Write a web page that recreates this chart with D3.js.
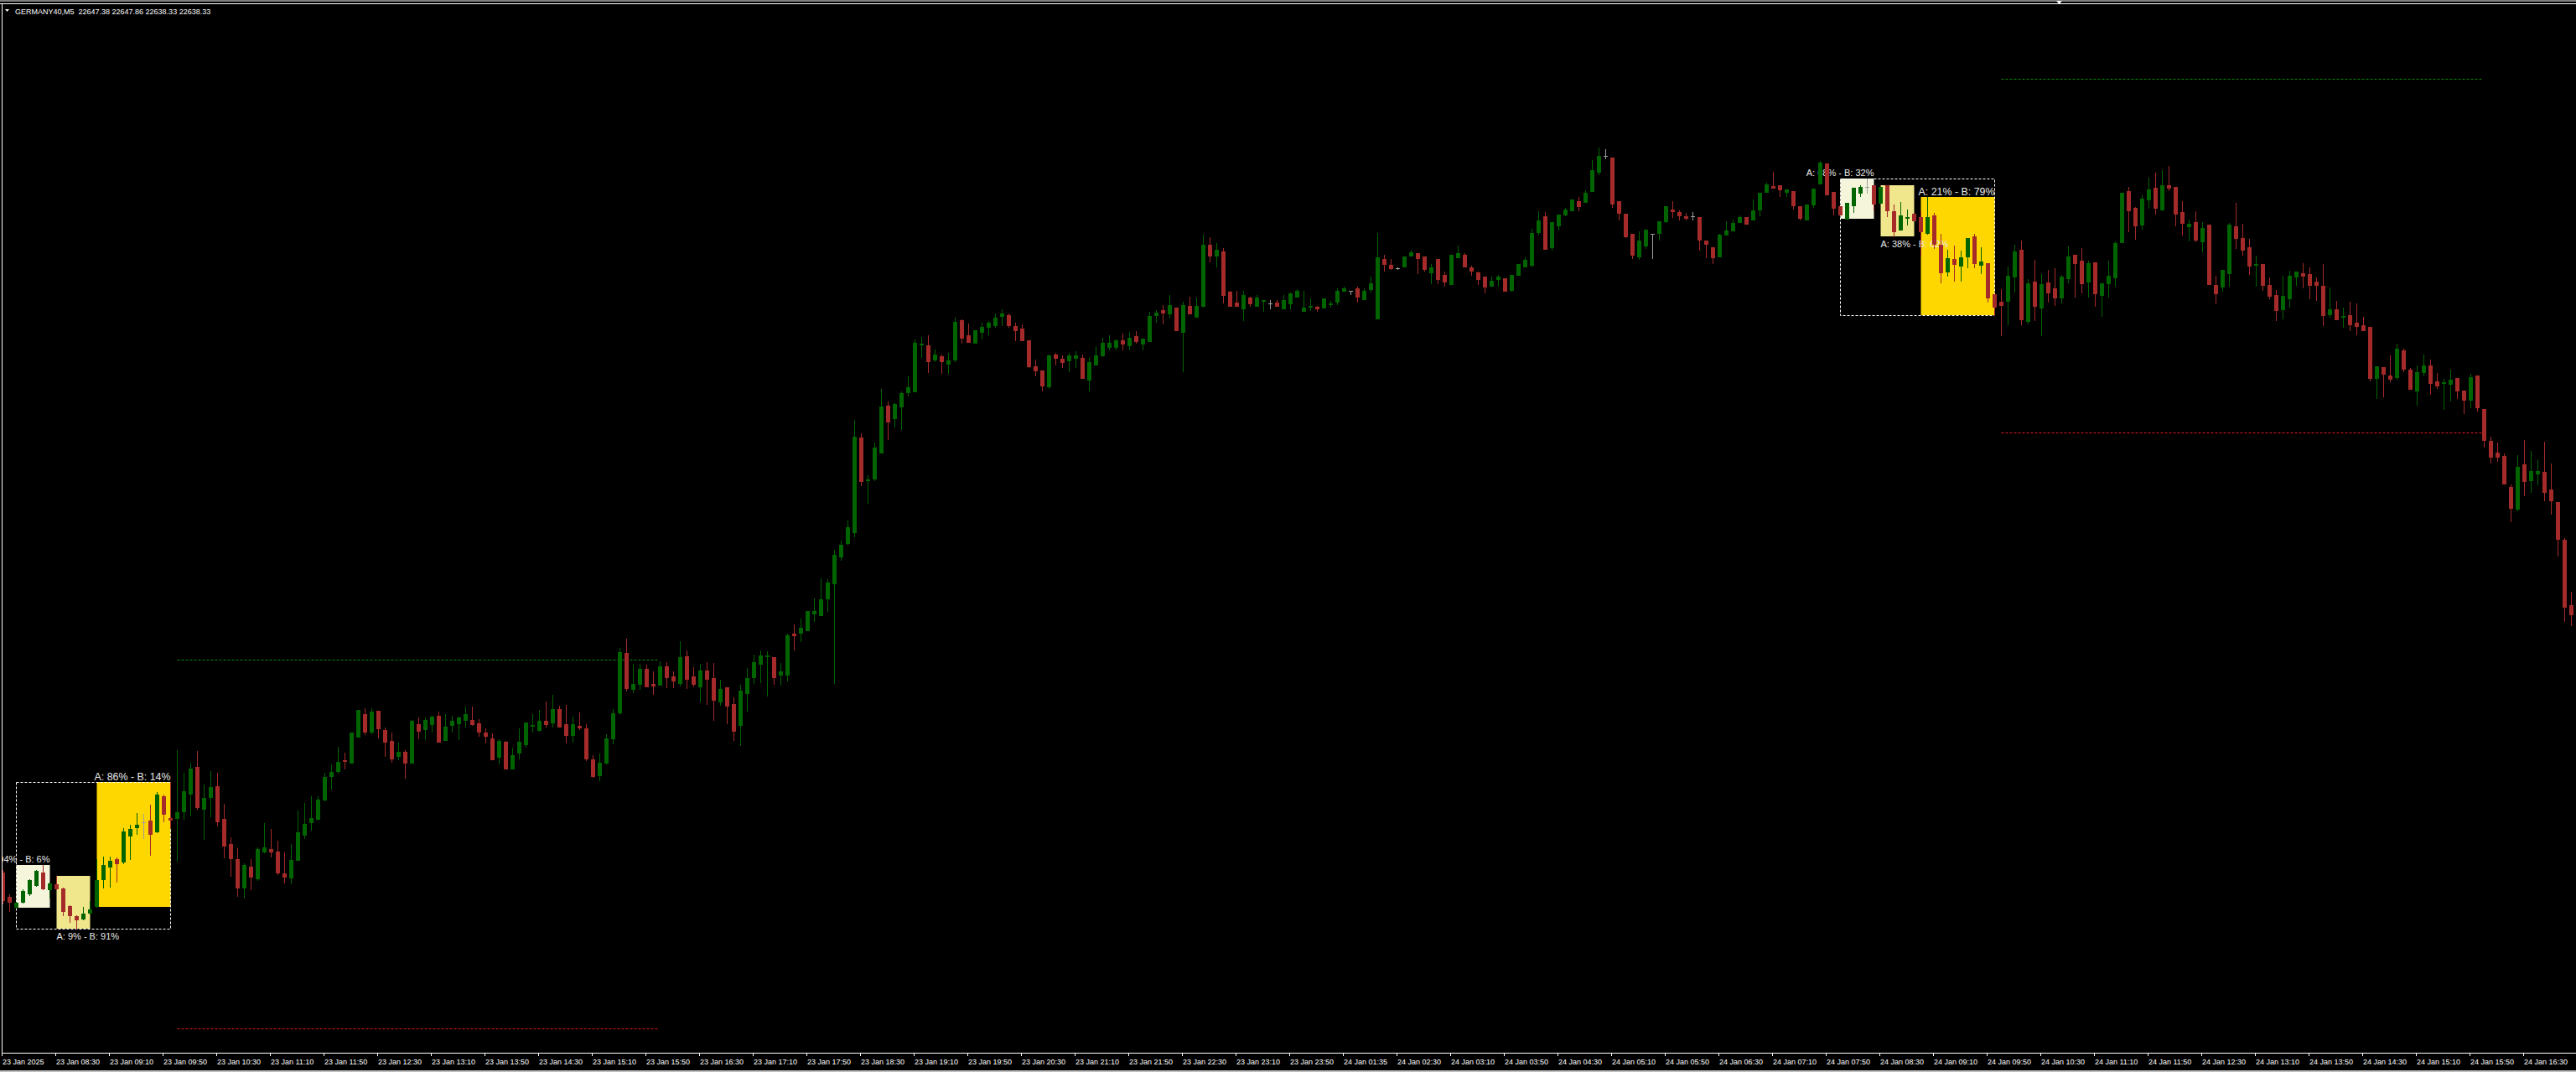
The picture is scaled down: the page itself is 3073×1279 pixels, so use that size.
<!DOCTYPE html>
<html>
<head>
<meta charset="utf-8">
<script src="https://cdn.jsdelivr.net/npm/d3@7"></script>
<style>
body { margin: 0; background: #000; overflow: hidden; }
svg { display: block; }
</style>
</head>
<body>
<div id="chart"></div>
<script>
// M5 bars, 23 Jan 07:50 -> 24 Jan 16:45
var symbolName = "GERMANY40,M5";
var lastQuote = ["22647.38", "22647.86", "22638.33", "22638.33"];

var opens = [
22484.5,22470,22464,22467,22472,22477,22484.5,22474.5,22477.5,22475,
22464.5,22458.5,22457,22460.5,22464.5,22480.5,22488,22492.5,22491,22506.5,
22511.5,22514.5,22515.5,22509,22530,22517,22517,22521,22531.5,22547.5,
22522.5,22529.5,22536,22516.5,22501.5,22492.5,22475.5,22488,22481,22497,
22498.5,22497,22484,22481.5,22492,22507,22514.5,22516.5,22528,22542,
22545,22551.5,22550,22565.5,22579,22568.5,22581,22569.5,22563,22554,
22556.5,22550,22573,22570,22573,22578,22563.5,22572.5,22573.5,22575.5,
22575.5,22573.5,22568,22564.5,22553.5,22562.5,22546.5,22556,22561,22572,
22569.5,22575,22574,22582,22573,22566.5,22572,22570.5,22552,22542.5,
22550,22564.5,22580,22615.5,22594,22597,22606,22597,22596.5,22607.5,
22601.5,22597.5,22613.5,22601.5,22595.5,22605,22600.5,22586.5,22595,22585,
22572.5,22591.5,22601,22609,22613.5,22613,22602.5,22602.5,22627,22627.5,
22629,22639,22638,22648,22657,22673,22681,22687.5,22744,22718.5,
22719.5,22735,22763,22755.5,22762.5,22771,22771.5,22799.5,22799,22790.5,
22792.5,22788,22790.5,22814,22805,22800.5,22807,22810,22811,22816.5,
22817,22810.5,22809,22802,22786.5,22784,22774.5,22793.5,22791,22790,
22791.5,22791.5,22778.5,22787.5,22793,22798,22798,22802,22799,22804.5,
22800,22801.5,22817,22820,22818,22821.5,22807,22822.5,22816,22822.5,
22859,22852.5,22855,22831,22824.5,22821,22827.5,22822.5,22825.5,22824,
22824.5,22821,22824,22828,22819.5,22822,22822,22821.5,22823.5,22825,
22831.5,22831.5,22833,22826.5,22832.5,22815,22850.5,22847,22845,22846,
22852.5,22854,22852,22842.5,22850.5,22841,22835.5,22851.5,22853,22845.5,
22842.5,22840,22834.5,22838.5,22839,22832,22841,22846,22847,22866.5,
22876,22857.5,22870.5,22877,22879.5,22885,22884.5,22891,22902.5,22912,
22911,22885,22877.5,22865.5,22852,22858.5,22865.5,22866,22873,22880,
22878.5,22876,22876,22875.5,22861.5,22857.5,22852,22865,22867.5,22872.5,
22875.5,22874,22880,22890.5,22894,22894.5,22890.5,22891,22882,22874,
22883,22895.5,22907.5,22890.5,22882,22874.5,22882.5,22890,22893.5,22894.5,
22884,22894.5,22879,22868,22875,22877.5,22875.5,22866,22876.5,22859,
22843,22850.5,22846.5,22852,22864,22847,22848,22829.5,22825,22825.5,
22840,22856,22813.5,22837,22821.5,22836.5,22833,22827.5,22839,22853,
22849.5,22837,22848.5,22829,22836,22839.5,22860.5,22891,22881,22871,
22886,22893,22880,22894.5,22893.5,22878.5,22870,22872.5,22861,22871,
22835,22834,22842,22870,22863,22857.5,22847,22847.5,22835,22829,
22820.5,22827,22840,22842,22841.5,22837,22834.5,22817.5,22820.5,22816,
22817,22812.5,22811,22810,22779.5,22786,22781,22780,22796,22784.5,
22772,22783,22787,22777.5,22776.5,22776,22779.5,22772,22766.5,22781,
22761,22742,22735,22733,22714.5,22701.5,22728,22718.5,22722.5,22723.5,
22713,22705.5,22683,22644
];

var highs = [
22486,22471.5,22467,22474.5,22480.5,22486,22489,22479,22482.5,22475.5,
22465,22459,22464,22467.5,22492.5,22494,22494,22493.5,22511,22513,
22520,22519.5,22525,22532.5,22531,22538.5,22557.5,22544,22550,22557,
22537,22545,22544,22525.5,22505.5,22499,22490,22492.5,22499.5,22514,
22510.5,22503.5,22496.5,22501.5,22521.5,22526,22530,22530,22544,22549,
22559.5,22556,22568,22581.5,22582.5,22582.5,22581,22571,22568,22562,
22557.5,22575.5,22577,22577,22578,22580.5,22579,22578,22577.5,22583.5,
22583.5,22576,22570.5,22567.5,22564,22563,22559,22570.5,22574,22579,
22581.5,22586.5,22590.5,22584,22584.5,22577.5,22580,22573,22554.5,22555.5,
22567,22582,22618.5,22624,22609,22609,22608.5,22604.5,22610.5,22610,
22604.5,22622.5,22617,22607,22609,22610,22609.5,22599.5,22595,22589,
22596.5,22606.5,22614.5,22617,22616.5,22613,22609.5,22627,22632.5,22636,
22640.5,22648,22660,22659.5,22677,22682.5,22694.5,22754.5,22746.5,22721.5,
22741,22773,22765.5,22764.5,22771.5,22780.5,22802.5,22804,22805,22796.5,
22793.5,22794.5,22815.5,22814.5,22812,22808,22812.5,22813.5,22818,22820.5,
22818,22812.5,22811.5,22802,22790.5,22784,22793.5,22794.5,22793,22794.5,
22795.5,22793.5,22791.5,22798.5,22803.5,22805,22802.5,22806,22807,22807.5,
22803,22819,22820,22823,22829,22821.5,22825,22828,22827.5,22865,
22863.5,22860,22857,22831.5,22831.5,22831.5,22828,22829,22826,22826,
22826,22829,22830.5,22832.5,22831.5,22827,22822.5,22827,22825.5,22833,
22834,22831.5,22834,22833,22840,22866,22853,22850.5,22845.5,22852,
22856,22854,22852,22847.5,22850.5,22843,22853,22858.5,22854,22846.5,
22843,22840,22840,22841,22839,22841,22847.5,22851.5,22868.5,22879,
22878.5,22872.5,22877,22881,22886,22887.5,22891.5,22909.5,22917,22916,
22911,22885,22877.5,22865.5,22867,22868,22865.5,22873,22882,22885,
22879.5,22878,22878.5,22875.5,22861.5,22857.5,22865.5,22873,22874,22876.5,
22875.5,22886,22890,22896,22902.5,22894.5,22892,22891,22882,22883,
22892.5,22909,22907.5,22890.5,22882,22884,22893,22894.5,22898.5,22894.5,
22893.5,22894.5,22883,22884.5,22880,22877.5,22879,22887.5,22878,22865.5,
22856,22858.5,22855.5,22863,22865.5,22857.5,22848,22829.5,22832.5,22846,
22859,22861.5,22838.5,22850,22841.5,22844,22845,22841,22858,22853,
22857,22849.5,22848.5,22836,22849.5,22861,22890,22893.5,22881.5,22888.5,
22899,22902,22903.5,22906,22893.5,22885,22874,22879,22872.5,22871,
22840.5,22844,22872,22884,22871.5,22862.5,22852.5,22847.5,22839.5,22832,
22840.5,22843.5,22843,22848,22845.5,22839.5,22847.5,22833.5,22825.5,22821.5,
22825,22824,22816,22810,22786.5,22786,22793,22800,22797,22785.5,
22787,22793.5,22790.5,22782.5,22779,22784.5,22779.5,22772,22782,22781,
22761,22744.5,22741,22734.5,22716,22733.5,22742.5,22736,22731,22741.5,
22728.5,22705.5,22684,22652
];

var lows = [
22466,22461.5,22463.5,22466.5,22471,22476.5,22474.5,22469.5,22474.5,22459,
22455,22451,22456.5,22460,22464,22475.5,22476,22479,22490,22492.5,
22507.5,22505,22495,22508.5,22515,22511.5,22491.5,22516.5,22518.5,22522.5,
22504.5,22518,22512.5,22493.5,22482.5,22470.5,22469.5,22474.5,22480,22496.5,
22494,22483.5,22478.5,22478,22492,22505,22510,22516,22527.5,22534.5,
22544,22546.5,22550,22565.5,22567,22567.5,22565,22554,22550.5,22552,
22541,22550,22564.5,22564,22568.5,22562.5,22563.5,22568.5,22564,22571.5,
22572.5,22566,22562,22552,22549.5,22546.5,22546.5,22552.5,22559.5,22568.5,
22569,22571.5,22571.5,22571.5,22562,22562.5,22570,22551.5,22541.5,22539.5,
22549.5,22561.5,22579,22593,22592,22594,22595.5,22591,22596.5,22595,
22595,22596,22594.5,22595.5,22586.5,22585,22575.5,22584.5,22573.5,22563.5,
22560.5,22581,22597.5,22598,22590,22597,22596.5,22599,22617.5,22622.5,
22629,22634.5,22638,22640.5,22597.5,22671,22680,22685,22715.5,22705,
22718.5,22735,22743,22750.5,22749,22769,22771.5,22792,22783,22789.5,
22782.5,22782.5,22789.5,22800.5,22801,22800.5,22803,22805.5,22810,22811,
22810,22802,22802,22786,22781,22772,22773.5,22787.5,22786,22783.5,
22786,22779.5,22772,22787.5,22792.5,22796.5,22796.5,22796.5,22796.5,22800.5,
22796.5,22801.5,22813,22812,22815.5,22808,22783.5,22818,22816,22822,
22849,22846,22824.5,22822.5,22822.5,22814,22822.5,22822.5,22819.5,22821,
22822.5,22821,22821,22828,22819.5,22820,22819.5,22821.5,22822,22823.5,
22831.5,22829.5,22825,22826.5,22831,22815,22843.5,22844.5,22844.5,22846,
22852.5,22842,22843.5,22836,22836,22834.5,22835.5,22851.5,22846,22841,
22835.5,22830.5,22834.5,22834.5,22831.5,22831.5,22841,22846,22846,22865,
22856.5,22856,22868,22876.5,22879.5,22879.5,22884.5,22891,22901,22910.5,
22881.5,22874,22863.5,22851,22850.5,22857,22851,22862,22872.5,22875.5,
22874,22874,22874,22856,22851.5,22848,22852,22865,22867.5,22872.5,
22871.5,22874,22876.5,22890.5,22893,22888,22888,22880.5,22874,22874,
22881.5,22895.5,22889,22877,22877,22874.5,22878.5,22888,22890,22879.5,
22884,22876,22864,22868,22871,22873.5,22852.5,22865.5,22857,22836.5,
22840.5,22837.5,22837.5,22845.5,22845.5,22842,22825,22817,22805,22811.5,
22831,22811.5,22812,22814,22805,22825,22823,22824.5,22836.5,22828,
22830.5,22828,22822.5,22816.5,22828,22834.5,22860.5,22867,22862.5,22868.5,
22881,22877.5,22880,22891.5,22870.5,22865,22861.5,22861,22855,22835.5,
22824,22831.5,22834.5,22857,22853,22841.5,22834.5,22832,22827,22814,
22815,22822,22835,22833.5,22827,22826,22811,22816,22814.5,22810,
22808,22805.5,22808,22778,22767.5,22768.5,22777.5,22779,22783.5,22773,
22763.5,22781,22770,22773.5,22761,22766,22767.5,22758.5,22762,22760,
22738.5,22729,22730,22716.5,22694,22700.5,22709.5,22711.5,22716,22706.5,
22698.5,22673.5,22634.5,22632
];

var closes = [
22468,22467,22466.5,22473.5,22480,22485.5,22475,22478,22475,22461.5,
22459,22456.5,22460,22462.5,22480,22489,22491.5,22490,22509,22510.5,
22513,22514.5,22507.5,22531,22519.5,22516,22520.5,22533,22546.5,22523.5,
22529,22535.5,22515,22500.5,22493,22475.5,22489,22482,22498.5,22499.5,
22497,22484.5,22482,22492,22508.5,22513.5,22517,22528,22541.5,22544.5,
22550.5,22551,22568,22581.5,22568.5,22580.5,22570.5,22562.5,22552.5,22556.5,
22550,22575,22569,22575.5,22577.5,22562.5,22571.5,22575,22577,22579,
22573,22568.5,22566,22552,22563,22546.5,22554.5,22562.5,22574,22572.5,
22575,22573,22582,22571.5,22566.5,22573,22571,22552.5,22542,22550,
22564.5,22579.5,22616,22594.5,22597,22606,22595.5,22596,22607.5,22601,
22599,22613,22600,22597,22605,22600,22587.5,22594,22584,22569,
22593,22600.5,22610,22614,22614,22601,22604.5,22626,22626,22630.5,
22640.5,22640.5,22647.5,22657.5,22674,22680,22690.5,22744.5,22718,22719,
22738,22762.5,22753.5,22764,22770.5,22774,22800.5,22800,22789.5,22793.5,
22789.5,22790,22813,22803.5,22801,22808,22810,22812.5,22815.5,22818,
22811,22808,22802,22786.5,22784,22775,22793,22791.5,22789,22793,
22793,22779.5,22789,22793,22800.5,22800.5,22802,22800,22803.5,22801.5,
22803,22816.5,22818.5,22818.5,22823,22808,22823,22818,22822.5,22859,
22852.5,22856,22829,22822.5,22822.5,22829,22824,22827.5,22826,22824,
22822.5,22826,22830,22831.5,22821.5,22822.5,22821,22827,22824,22831.5,
22833,22831.5,22828,22831.5,22836,22851.5,22847.5,22845,22845,22852,
22854.5,22851,22844.5,22845.5,22838.5,22837,22853,22854,22846,22843.5,
22838.5,22834,22837.5,22840,22831.5,22841,22847.5,22850,22866,22873.5,
22856.5,22872.5,22877,22880,22886,22882,22890,22903.5,22912,22912,
22883.5,22878,22864,22853,22861.5,22868,22865.5,22873,22882,22879,
22876.5,22875,22876,22862,22859.5,22851.5,22865,22867.5,22872,22875.5,
22871.5,22879.5,22890,22895,22893,22892,22892,22882.5,22875,22883,
22892.5,22908,22889,22881,22877,22884,22893,22893.5,22893.5,22883.5,
22893.5,22879.5,22867,22876.5,22875.5,22873.5,22867,22875.5,22859.5,22842.5,
22851,22847.5,22851.5,22863,22848,22849,22827.5,22822,22823,22840.5,
22855,22814.5,22836,22822.5,22835.5,22830.5,22827.5,22840,22852,22848,
22836,22848,22830,22836,22840.5,22860,22890,22879.5,22870.5,22886.5,
22892,22881,22894.5,22893,22877.5,22872,22871.5,22862,22869,22835.5,
22830,22844,22871,22863,22856,22846.5,22847.5,22835,22828.5,22820,
22828.5,22840.5,22843,22840.5,22835,22835,22817,22820.5,22814.5,22816.5,
22811.5,22810.5,22808,22779.5,22786.5,22782,22779,22797,22785,22773,
22783,22787,22776.5,22775,22777,22778.5,22772,22766.5,22780,22762,
22742.5,22732.5,22732.5,22716.5,22702,22726.5,22718,22724,22724,22711.5,
22706.5,22683.5,22643,22638.5
];

var timeLabels = ["23 Jan 2025","23 Jan 08:30","23 Jan 09:10","23 Jan 09:50","23 Jan 10:30","23 Jan 11:10",
"23 Jan 11:50","23 Jan 12:30","23 Jan 13:10","23 Jan 13:50","23 Jan 14:30","23 Jan 15:10","23 Jan 15:50",
"23 Jan 16:30","23 Jan 17:10","23 Jan 17:50","23 Jan 18:30","23 Jan 19:10","23 Jan 19:50","23 Jan 20:30",
"23 Jan 21:10","23 Jan 21:50","23 Jan 22:30","23 Jan 23:10","23 Jan 23:50","24 Jan 01:35","24 Jan 02:30",
"24 Jan 03:10","24 Jan 03:50","24 Jan 04:30","24 Jan 05:10","24 Jan 05:50","24 Jan 06:30","24 Jan 07:10",
"24 Jan 07:50","24 Jan 08:30","24 Jan 09:10","24 Jan 09:50","24 Jan 10:30","24 Jan 11:10","24 Jan 11:50",
"24 Jan 12:30","24 Jan 13:10","24 Jan 13:50","24 Jan 14:30","24 Jan 15:10","24 Jan 15:50","24 Jan 16:30"];

// A/B zones: first and last bar of each range, and its label
var zoneStart = [2, 8, 14, 274, 280, 286];
var zoneEnd = [7, 13, 25, 279, 285, 297];
var zoneTexts = ["A: 94% - B: 6%", "A: 9% - B: 91%", "A: 86% - B: 14%",
                 "A: 68% - B: 32%", "A: 38% - B: 62%", "A: 21% - B: 79%"];
var groupStart = [2, 274];
var groupEnd = [25, 297];

// projected levels (dotted)
var levelStart = [26, 26, 298, 298];
var levelEnd = [97.6, 97.6, 369.6, 369.6];
var levelPrices = [22611.5, 22391.5, 22958, 22747];
var levelKinds = ["up", "down", "up", "down"];

var W = 3073, H = 1279;
var upColor = "#006400", downColor = "#a52a2a", dojiColor = "#a0a0a0";
var zoneColors = ["#f5f5dc", "#f0e68c", "#ffd700"];
var font = "'Liberation Sans', Arial, sans-serif";

var svg = d3.select("#chart").append("svg").attr("width", W).attr("height", H);
svg.append("rect").attr("width", W).attr("height", H).attr("fill", "#000");

var x = d3.scaleLinear().domain([0, opens.length - 1]).range([3.5, 3.5 + 8 * (opens.length - 1)]);
var y = d3.scaleLinear().domain([22377, 23005]).range([1256, 0]);

svg.append("clipPath").attr("id", "plot").append("rect").attr("x", 3).attr("y", 5).attr("width", W - 3).attr("height", 1251);
var plot = svg.append("g").attr("clip-path", "url(#plot)");

var bars = opens.map((o, i) => ({i: i, o: o, h: highs[i], l: lows[i], c: closes[i]}));

// zones
var zones = zoneStart.map((s, k) => {
    let hi = d3.max(highs.slice(s, zoneEnd[k] + 1));
    let lo = d3.min(lows.slice(s, zoneEnd[k] + 1));
    return {k: k, s: s, e: zoneEnd[k], top: y(hi), bottom: y(lo), text: zoneTexts[k]};
});
plot.selectAll(".zone").data(zones).join("rect").attr("class", "zone")
    .attr("x", d => x(d.s)).attr("width", d => x(d.e) - x(d.s))
    .attr("y", d => d.top).attr("height", d => d.bottom - d.top)
    .attr("fill", d => zoneColors[d.k % 3]);

var groups = groupStart.map((s, k) => ({
    s: s, e: groupEnd[k],
    top: y(d3.max(highs.slice(s, groupEnd[k] + 1))),
    bottom: y(d3.min(lows.slice(s, groupEnd[k] + 1)))
}));
plot.selectAll(".group").data(groups).join("rect").attr("class", "group")
    .attr("x", d => x(d.s)).attr("width", d => x(d.e) - x(d.s))
    .attr("y", d => Math.round(d.top) + 0.5).attr("height", d => Math.round(d.bottom - d.top))
    .attr("fill", "none").attr("stroke", "#fff").attr("stroke-width", 1).attr("stroke-dasharray", "3,2");

plot.selectAll(".zlabel").data(zones).join("text").attr("class", "zlabel")
    .attr("x", d => d.k % 3 == 1 ? x(d.s) : x(d.e))
    .attr("y", d => d.k % 3 == 1 ? d.bottom + 12.5 : d.top - (d.k % 3 == 2 ? 2 : 3))
    .attr("text-anchor", d => d.k % 3 == 1 ? "start" : "end")
    .attr("font-family", font).attr("font-size", d => d.k % 3 == 2 ? 12.4 : 11)
    .attr("fill", "#e8e8e8").text(d => d.text);

// levels
var levels = levelPrices.map((p, k) => ({p: p, s: levelStart[k], e: levelEnd[k], kind: levelKinds[k]}));
plot.selectAll(".level").data(levels).join("line").attr("class", "level")
    .attr("x1", d => x(d.s)).attr("x2", d => x(d.e))
    .attr("y1", d => Math.round(y(d.p)) + 0.5).attr("y2", d => Math.round(y(d.p)) + 0.5)
    .attr("stroke", d => d.kind == "up" ? "#0b8a0b" : "#e01818").attr("stroke-width", 1)
    .attr("stroke-dasharray", "3,2");

// candles
var colorOf = d => d.c > d.o ? upColor : (d.c < d.o ? downColor : dojiColor);
plot.selectAll(".wick").data(bars).join("line").attr("class", "wick")
    .attr("x1", d => x(d.i)).attr("x2", d => x(d.i))
    .attr("y1", d => y(d.h)).attr("y2", d => y(d.l) + 1)
    .attr("stroke", colorOf).attr("stroke-width", 1);
plot.selectAll(".body").data(bars).join("rect").attr("class", "body")
    .attr("x", d => x(d.i) - 2.5).attr("width", 5)
    .attr("y", d => y(Math.max(d.o, d.c)))
    .attr("height", d => Math.max(1, Math.abs(y(d.o) - y(d.c)) + 1))
    .attr("fill", colorOf);

// frame
svg.append("rect").attr("x", 0).attr("y", 0).attr("width", W).attr("height", 2).attr("fill", "#7f7f7f");
svg.append("rect").attr("x", 0).attr("y", 4).attr("width", W).attr("height", 1).attr("fill", "#fff");
svg.append("rect").attr("x", 2).attr("y", 4).attr("width", 1).attr("height", 1253).attr("fill", "#fff");
svg.append("rect").attr("x", 2).attr("y", 1256).attr("width", W - 2).attr("height", 1).attr("fill", "#fff");
svg.append("rect").attr("x", 0).attr("y", 1277).attr("width", W).attr("height", 2).attr("fill", "#c0c0c0");
svg.append("path").attr("d", "M2453,1L2460,1L2456.5,5Z").attr("fill", "#fff");

// time axis
var axis = svg.append("g").attr("transform", "translate(-1.5,1257)")
    .call(d3.axisBottom(x).tickValues(d3.range(0, timeLabels.length * 8, 8)).tickSize(3)
        .tickFormat(d => timeLabels[d / 8]));
axis.select(".domain").remove();
axis.selectAll(".tick line").attr("stroke", "#fff");
axis.selectAll(".tick text").attr("fill", "#fff").attr("y", 12.5).attr("dy", 0).attr("x", 0.5)
    .attr("text-anchor", "start").attr("font-family", font).attr("font-size", 9);

// header
svg.append("path").attr("d", "M6,11L11,11L8.5,14Z").attr("fill", "#fff");
svg.append("text").attr("x", 18).attr("y", 16.5).attr("font-family", font).attr("font-size", 9)
    .attr("fill", "#fff").attr("xml:space", "preserve")
    .text(symbolName + "  " + lastQuote.join(" "));
</script>
</body>
</html>
